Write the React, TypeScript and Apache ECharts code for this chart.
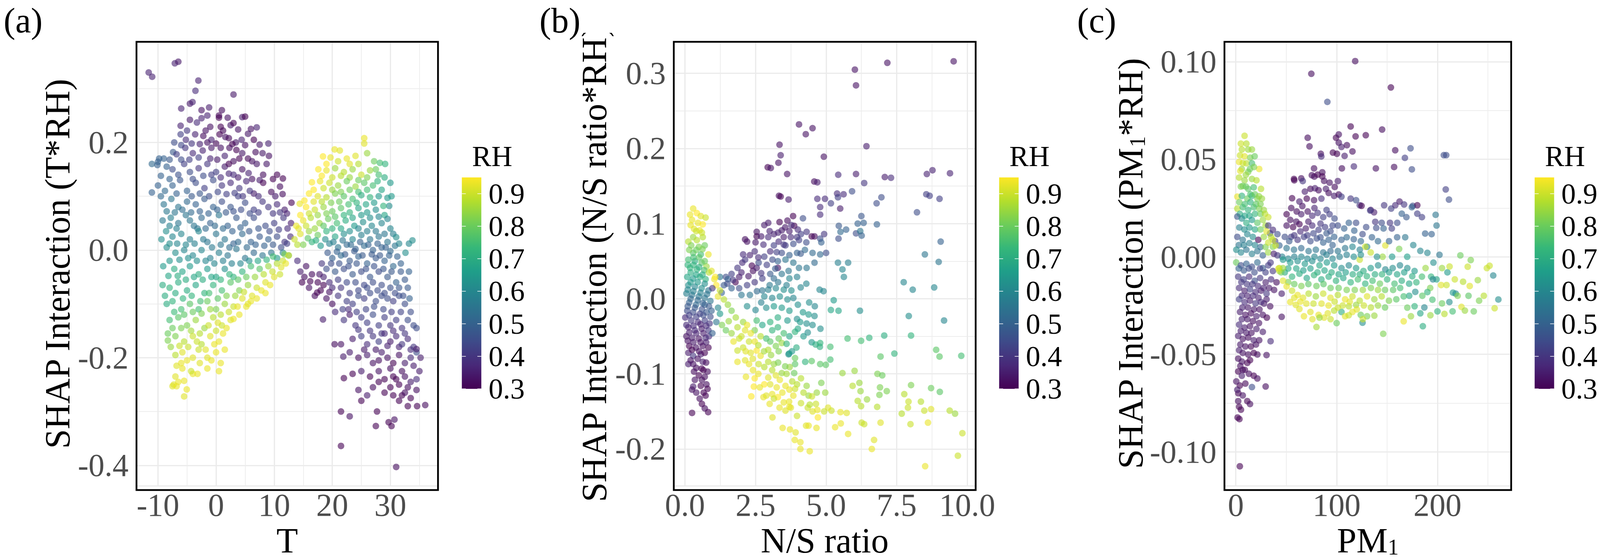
import { useEffect, useRef } from 'react';
import * as echarts from 'echarts';

// viridis, low RH -> high RH
const VIRIDIS = ['#440154', '#482878', '#3E4A89', '#31688E', '#26828E', '#1F9E89', '#35B779', '#6DCD59', '#B4DE2C', '#FDE725'];
const RH_MIN = 0.3;
const RH_MAX = 0.95;
const RH_TICKS = [0.3, 0.4, 0.5, 0.6, 0.7, 0.8, 0.9];

// (a) [T, SHAP interaction (T*RH), RH]
const T_POINTS: number[][] = [
  [-11.6,0.33,0.36],[-11.0,0.322,0.36],[-7.1,0.347,0.36],[-6.5,0.35,0.34],[-3.05,0.315,0.36],[-3.55,0.296,0.38],[3.0,0.289,0.34],[-6.0,0.263,0.36],[-4.5,0.272,0.34],[-4.05,0.275,0.36],[-2.5,0.26,0.33],[-1.2,0.265,0.35],[1.0,0.26,0.32],[0.5,0.25,0.31],[-1.5,0.25,0.36],
  [-6.1,0.231,0.36],[-4.5,0.242,0.34],[-2.5,0.245,0.36],[0.5,0.246,0.3],[2.0,0.246,0.33],[4.5,0.247,0.35],[5.0,0.248,0.3],[-1.0,0.229,0.33],[0.8,0.229,0.3],[2.5,0.232,0.34],[7.0,0.228,0.36],[3.0,0.236,0.3],[-3.3,0.237,0.38],
  [-5.0,0.222,0.4],[-1.8,0.222,0.33],[1.2,0.222,0.31],[3.8,0.224,0.33],[6.0,0.225,0.33],
  [-6.1,0.215,0.42],[-7.2,0.2,0.45],[-3.6,0.215,0.36],[-2.2,0.212,0.32],[-0.8,0.205,0.36],[0.6,0.215,0.3],[1.6,0.21,0.33],[2.2,0.208,0.31],[3.4,0.2,0.34],[4.4,0.205,0.36],[5.5,0.216,0.34],[6.5,0.205,0.3],[9.0,0.198,0.36],[-5.2,0.205,0.38],[-4.2,0.198,0.4],
  [-6.0,0.195,0.44],[-2.8,0.197,0.36],[-1.5,0.2,0.33],[0.0,0.198,0.31],[2.8,0.197,0.3],[5.0,0.195,0.33],[7.5,0.196,0.34],
  [-11.05,0.16,0.52],[-10.0,0.164,0.5],[-9.0,0.17,0.5],[-7.4,0.182,0.48],[-6.8,0.178,0.42],[-5.3,0.19,0.4],[-4.0,0.18,0.38],[-2.3,0.185,0.36],[-0.8,0.19,0.34],[0.8,0.19,0.33],[2.3,0.19,0.32],[3.5,0.186,0.3],[4.5,0.18,0.34],[6.8,0.182,0.32],[8.0,0.18,0.34],[9.1,0.175,0.33],[-3.0,0.172,0.42],[1.5,0.175,0.36],[5.5,0.17,0.31],
  [-9.8,0.17,0.5],[-8.0,0.168,0.48],[-6.0,0.168,0.45],[-4.6,0.168,0.42],[-1.0,0.17,0.36],[0.2,0.168,0.34],[3.0,0.165,0.32],[4.0,0.17,0.3],[6.2,0.165,0.33],[8.7,0.16,0.34],
  [-10.1,0.158,0.5],[-8.5,0.155,0.5],[-7.5,0.15,0.45],[-5.5,0.16,0.42],[-4.5,0.145,0.45],[-3.0,0.152,0.4],[-1.5,0.16,0.4],[0.0,0.145,0.42],[1.5,0.155,0.35],[3.0,0.14,0.38],[4.5,0.15,0.33],[5.6,0.143,0.36],[7.0,0.16,0.34],[8.1,0.14,0.32],[9.8,0.132,0.3],[-2.2,0.138,0.45],[2.2,0.16,0.3],[-6.5,0.14,0.46],
  [-9.5,0.138,0.5],[-8.0,0.132,0.5],[-4.0,0.132,0.45],[-0.8,0.14,0.42],[0.8,0.135,0.38],[2.2,0.142,0.37],[3.8,0.135,0.35],[6.2,0.132,0.33],[7.5,0.13,0.35],[10.5,0.14,0.3],
  [-11.05,0.107,0.5],[-10.0,0.12,0.5],[-7.5,0.12,0.5],[-6.2,0.13,0.47],[-5.0,0.11,0.5],[-3.5,0.125,0.45],[-2.0,0.115,0.42],[-0.5,0.13,0.45],[1.0,0.12,0.4],[2.5,0.125,0.38],[4.0,0.115,0.4],[5.2,0.128,0.37],[6.5,0.105,0.35],[8.1,0.125,0.3],[9.5,0.108,0.32],[11.5,0.133,0.3],[11.45,0.104,0.32],[-8.8,0.11,0.52],[0.3,0.108,0.44],[3.2,0.106,0.42],
  [-9.5,0.1,0.52],[-6.8,0.105,0.5],[-4.2,0.1,0.48],[-2.8,0.105,0.47],[-1.2,0.1,0.45],[1.8,0.104,0.42],[4.6,0.1,0.4],[5.8,0.11,0.4],[7.3,0.1,0.38],[10.2,0.1,0.35],[11.0,0.118,0.32],
  [-7.7,0.095,0.55],[-6.5,0.08,0.55],[-5.0,0.09,0.52],[-3.5,0.085,0.5],[-2.0,0.095,0.48],[-0.5,0.08,0.5],[1.0,0.09,0.45],[2.5,0.08,0.47],[3.8,0.1,0.42],[5.0,0.088,0.45],[6.5,0.075,0.42],[8.0,0.09,0.4],[9.0,0.08,0.4],[10.5,0.085,0.38],[12.98,0.088,0.3],[11.8,0.075,0.35],[-9.0,0.085,0.55],
  [-8.5,0.072,0.56],[-7.1,0.07,0.55],[-5.8,0.075,0.53],[-4.3,0.07,0.52],[-2.8,0.072,0.5],[-1.3,0.068,0.5],[0.2,0.075,0.5],[1.7,0.07,0.48],[3.0,0.072,0.46],[4.3,0.075,0.45],[5.8,0.068,0.45],[7.3,0.07,0.42],[9.8,0.068,0.4],[11.0,0.07,0.4],[12.2,0.068,0.36],
  [-7.8,0.06,0.58],[-6.5,0.05,0.55],[-5.2,0.065,0.55],[-3.8,0.045,0.55],[-2.5,0.06,0.52],[-1.0,0.05,0.5],[0.5,0.065,0.55],[2.0,0.045,0.5],[3.5,0.06,0.48],[5.0,0.05,0.5],[6.5,0.06,0.45],[8.5,0.045,0.45],[10.0,0.05,0.42],[11.6,0.06,0.4],[12.9,0.05,0.35],[-9.2,0.055,0.56],
  [-8.0,0.045,0.58],[-6.8,0.04,0.58],[-4.5,0.055,0.55],[-3.2,0.04,0.55],[-1.8,0.04,0.52],[-0.2,0.045,0.52],[1.2,0.04,0.52],[2.8,0.035,0.5],[4.2,0.042,0.5],[5.7,0.035,0.48],[7.3,0.04,0.47],[9.2,0.035,0.45],[10.8,0.038,0.42],[12.3,0.04,0.38],
  [-8.6,0.035,0.62],[-7.5,0.025,0.6],[-6.0,0.03,0.6],[-4.5,0.02,0.58],[-3.0,0.035,0.6],[-1.5,0.015,0.55],[0.0,0.03,0.55],[1.5,0.02,0.55],[3.0,0.012,0.5],[4.5,0.03,0.52],[6.0,0.015,0.5],[7.5,0.025,0.48],[9.0,0.02,0.5],[10.5,0.025,0.45],[11.8,0.015,0.4],[12.8,0.025,0.38],[-9.4,0.02,0.62],
  [-8.0,0.012,0.62],[-6.7,0.012,0.6],[-5.2,0.01,0.6],[-3.7,0.012,0.58],[-2.2,0.02,0.56],[-0.7,0.005,0.56],[0.8,0.01,0.55],[2.3,0.005,0.53],[3.8,0.015,0.52],[5.3,0.005,0.52],[6.8,0.01,0.5],[8.3,0.008,0.5],[9.8,0.01,0.48],[11.2,0.005,0.45],[12.2,0.012,0.42],
  [-7.0,-0.005,0.62],[-5.5,0.0,0.6],[-4.0,-0.01,0.6],[-2.5,0.0,0.6],[-1.0,-0.015,0.58],[0.5,-0.005,0.58],[2.0,-0.01,0.55],[3.5,0.002,0.55],[5.0,-0.015,0.55],[6.5,-0.005,0.52],[8.0,-0.01,0.55],[9.5,-0.005,0.55],[10.5,-0.015,0.65],[11.5,-0.005,0.6],[12.5,-0.01,0.7],[-8.5,0.005,0.62],
  [-8.0,-0.02,0.64],[-6.3,-0.018,0.62],[-4.8,-0.015,0.62],[-3.3,-0.02,0.62],[-1.8,-0.02,0.6],[-0.3,-0.025,0.6],[1.2,-0.02,0.58],[2.7,-0.025,0.58],[4.2,-0.025,0.6],[5.7,-0.02,0.62],[7.2,-0.02,0.68],[8.7,-0.018,0.72],[9.8,-0.012,0.75],[11.8,-0.008,0.82],
  [-9.1,-0.03,0.65],[-7.2,-0.035,0.7],[-5.8,-0.04,0.68],[-4.5,-0.03,0.65],[-3.0,-0.045,0.7],[-1.5,-0.035,0.65],[0.0,-0.05,0.68],[1.5,-0.035,0.62],[3.0,-0.05,0.72],[4.5,-0.04,0.72],[6.0,-0.03,0.75],[7.5,-0.035,0.78],[9.0,-0.03,0.85],[10.5,-0.025,0.88],[11.5,-0.02,0.9],[12.5,-0.01,0.92],
  [-8.2,-0.048,0.68],[-6.6,-0.048,0.7],[-5.2,-0.055,0.7],[-3.8,-0.05,0.68],[-2.3,-0.055,0.7],[-0.8,-0.05,0.68],[0.8,-0.055,0.72],[2.3,-0.045,0.72],[3.8,-0.055,0.78],[5.2,-0.05,0.8],[6.7,-0.05,0.85],[8.2,-0.045,0.88],[9.7,-0.04,0.9],[11.2,-0.032,0.92],[12.0,-0.025,0.93],
  [-8.0,-0.07,0.72],[-6.5,-0.06,0.7],[-5.0,-0.075,0.7],[-3.5,-0.065,0.68],[-2.0,-0.08,0.72],[-0.5,-0.065,0.72],[1.0,-0.075,0.75],[2.5,-0.06,0.78],[4.0,-0.075,0.82],[5.5,-0.065,0.85],[7.0,-0.07,0.9],[8.5,-0.06,0.92],[10.0,-0.05,0.92],[11.0,-0.045,0.9],[6.2,-0.085,0.92],[-9.2,-0.065,0.7],
  [-8.8,-0.085,0.7],[-7.0,-0.08,0.7],[-5.7,-0.09,0.72],[-4.2,-0.085,0.72],[-2.7,-0.095,0.75],[-1.2,-0.08,0.75],[0.3,-0.09,0.78],[1.8,-0.085,0.82],[3.3,-0.085,0.85],[4.8,-0.078,0.9],[7.8,-0.075,0.93],[9.3,-0.065,0.93],
  [-8.5,-0.1,0.7],[-7.5,-0.095,0.72],[-6.0,-0.11,0.75],[-4.5,-0.1,0.78],[-3.0,-0.11,0.75],[-1.5,-0.095,0.8],[0.0,-0.11,0.82],[1.5,-0.1,0.85],[3.0,-0.105,0.9],[4.5,-0.09,0.92],[5.5,-0.1,0.92],[7.0,-0.09,0.93],[-2.5,-0.118,0.82],[8.5,-0.08,0.93],
  [-7.2,-0.115,0.74],[-5.5,-0.12,0.78],[-4.0,-0.115,0.8],[-1.0,-0.11,0.85],[0.8,-0.12,0.88],[2.2,-0.115,0.9],[3.7,-0.105,0.93],[5.2,-0.105,0.93],[6.0,-0.095,0.93],
  [-8.0,-0.13,0.75],[-6.5,-0.125,0.78],[-5.0,-0.14,0.82],[-3.5,-0.13,0.85],[-2.0,-0.145,0.85],[-0.5,-0.125,0.88],[1.0,-0.14,0.9],[2.5,-0.13,0.92],[4.0,-0.12,0.93],[0.0,-0.15,0.9],
  [-7.5,-0.145,0.8],[-6.0,-0.145,0.82],[-4.3,-0.15,0.86],[-2.8,-0.155,0.88],[-1.3,-0.14,0.9],[0.3,-0.135,0.92],[1.8,-0.145,0.93],[3.0,-0.128,0.93],
  [-8.3,-0.155,0.8],[-8.3,-0.168,0.82],[-7.0,-0.16,0.82],[-5.5,-0.17,0.88],[-4.0,-0.16,0.9],[-2.5,-0.175,0.88],[-1.0,-0.16,0.92],[0.5,-0.17,0.93],[1.2,-0.155,0.93],[-6.3,-0.178,0.9],
  [-7.8,-0.18,0.85],[-4.8,-0.18,0.9],[-3.3,-0.17,0.9],[-1.8,-0.185,0.92],[-0.3,-0.175,0.93],[1.5,-0.185,0.93],
  [-7.0,-0.195,0.88],[-5.8,-0.19,0.92],[-4.0,-0.2,0.92],[-3.0,-0.185,0.9],[-1.5,-0.2,0.92],[0.0,-0.19,0.93],[0.8,-0.21,0.93],[-6.0,-0.21,0.93],
  [-6.8,-0.215,0.92],[-5.0,-0.205,0.93],[-2.8,-0.21,0.92],[-0.8,-0.205,0.93],[0.5,-0.225,0.93],[-4.0,-0.23,0.93],
  [-5.8,-0.22,0.93],[-7.0,-0.235,0.92],[-6.5,-0.245,0.93],[-7.3,-0.25,0.92],[-4.3,-0.225,0.9],[-3.2,-0.23,0.93],[-1.5,-0.22,0.93],[-7.5,-0.253,0.92],[-6.8,-0.253,0.93],[-5.5,-0.243,0.93],[-5.05,-0.259,0.93],[-5.5,-0.272,0.92],
  [25.5,0.208,0.93],[25.5,0.198,0.92],[20.4,0.187,0.93],[21.3,0.185,0.92],[26.0,0.18,0.85],[24.0,0.175,0.92],[18.4,0.174,0.95],[19.7,0.172,0.93],[22.5,0.17,0.93],[27.2,0.165,0.8],[28.2,0.162,0.75],[29.1,0.16,0.72],
  [19.0,0.16,0.95],[21.0,0.165,0.9],[23.0,0.16,0.92],[24.5,0.16,0.88],[27.5,0.15,0.8],
  [17.6,0.15,0.95],[19.0,0.148,0.93],[20.5,0.152,0.85],[22.0,0.145,0.88],[23.5,0.15,0.85],[25.0,0.14,0.9],[26.5,0.148,0.85],[28.0,0.14,0.75],
  [18.2,0.138,0.95],[20.0,0.135,0.9],[21.5,0.138,0.88],[23.0,0.135,0.85],[24.5,0.13,0.8],[26.0,0.135,0.82],[27.8,0.128,0.72],[29.0,0.135,0.7],
  [17.9,0.128,0.93],[16.5,0.126,0.95],[19.5,0.125,0.9],[21.0,0.12,0.85],[22.5,0.128,0.8],[24.0,0.118,0.85],[25.5,0.125,0.78],[27.0,0.12,0.75],[30.0,0.125,0.65],
  [16.8,0.112,0.95],[18.5,0.115,0.9],[20.0,0.112,0.85],[21.5,0.108,0.82],[23.0,0.112,0.8],[24.5,0.108,0.75],[26.0,0.112,0.75],[28.5,0.112,0.68],
  [16.0,0.105,0.95],[17.5,0.1,0.92],[19.0,0.098,0.88],[20.5,0.105,0.82],[22.0,0.1,0.78],[23.5,0.095,0.75],[25.0,0.102,0.7],[26.5,0.098,0.72],[28.0,0.1,0.65],[29.5,0.097,0.65],[30.2,0.1,0.65],
  [15.2,0.092,0.95],[16.8,0.09,0.92],[18.2,0.09,0.88],[19.8,0.088,0.82],[21.2,0.09,0.8],[22.8,0.085,0.75],[24.2,0.088,0.72],[25.8,0.085,0.68],[27.2,0.088,0.65],[29.8,0.082,0.62],
  [15.5,0.08,0.95],[14.4,0.086,0.93],[17.0,0.075,0.9],[18.5,0.08,0.85],[20.0,0.072,0.8],[21.5,0.078,0.78],[23.0,0.07,0.72],[24.5,0.078,0.68],[26.0,0.07,0.65],[27.5,0.075,0.62],[28.8,0.082,0.72],[29.0,0.065,0.68],
  [14.5,0.065,0.95],[16.0,0.068,0.9],[17.5,0.065,0.85],[19.0,0.068,0.82],[20.5,0.062,0.78],[22.0,0.065,0.72],[23.5,0.06,0.68],[25.0,0.065,0.65],[26.5,0.06,0.62],[28.0,0.062,0.6],[29.5,0.058,0.6],
  [15.0,0.055,0.93],[16.3,0.06,0.88],[17.8,0.05,0.85],[19.3,0.058,0.8],[20.8,0.05,0.75],[22.3,0.055,0.7],[23.8,0.045,0.65],[25.3,0.052,0.62],[26.8,0.045,0.6],[28.5,0.05,0.6],[30.0,0.04,0.6],
  [14.2,0.04,0.92],[15.5,0.045,0.9],[17.0,0.04,0.85],[18.5,0.045,0.78],[20.0,0.04,0.72],[21.5,0.04,0.68],[23.0,0.035,0.62],[24.5,0.04,0.6],[26.0,0.035,0.58],[27.5,0.035,0.56],[29.0,0.03,0.55],[30.5,0.03,0.58],
  [13.8,0.045,0.93],[14.5,0.03,0.92],[16.0,0.035,0.85],[17.5,0.028,0.8],[19.0,0.035,0.72],[20.5,0.025,0.68],[22.0,0.03,0.62],[23.5,0.02,0.6],[25.0,0.028,0.58],[26.5,0.02,0.55],[28.0,0.025,0.55],[29.5,0.015,0.55],[31.0,0.024,0.62],[31.5,0.012,0.6],[33.2,0.012,0.6],[33.8,0.018,0.62],[32.6,-0.005,0.62],
  [14.0,0.01,0.88],[15.8,0.022,0.78],[17.2,0.018,0.7],[18.8,0.02,0.62],[20.2,0.015,0.58],[21.8,0.018,0.55],[23.2,0.01,0.52],[24.8,0.015,0.5],[26.2,0.01,0.5],[27.8,0.012,0.5],[29.2,0.005,0.5],[30.8,0.008,0.55],
  [13.5,0.02,0.9],[15.0,0.01,0.82],[16.5,0.015,0.72],[18.0,0.008,0.65],[19.5,0.012,0.58],[21.0,0.005,0.55],[22.5,0.01,0.52],[24.0,0.002,0.5],[25.5,0.008,0.52],[27.0,0.0,0.5],[28.5,0.005,0.5],[30.0,-0.002,0.52],
  [19.2,-0.005,0.48],[20.8,-0.003,0.5],[22.2,-0.008,0.48],[23.8,-0.002,0.48],[25.2,-0.01,0.48],[26.8,-0.008,0.48],[28.2,-0.01,0.48],[29.8,-0.01,0.5],[31.2,-0.012,0.5],
  [20.0,-0.015,0.5],[21.5,-0.01,0.52],[23.0,-0.02,0.48],[24.5,-0.012,0.5],[26.0,-0.025,0.5],[27.5,-0.015,0.48],[29.0,-0.02,0.5],[30.5,-0.03,0.52],[31.8,-0.025,0.5],
  [18.2,-0.025,0.4],[19.8,-0.025,0.45],[21.2,-0.025,0.46],[22.8,-0.03,0.46],[24.2,-0.025,0.47],[25.8,-0.035,0.46],[27.2,-0.03,0.46],[28.8,-0.035,0.47],[30.2,-0.04,0.48],[31.8,-0.04,0.48],
  [19.0,-0.035,0.45],[20.5,-0.04,0.48],[22.0,-0.035,0.45],[23.5,-0.045,0.48],[25.0,-0.04,0.45],[26.5,-0.05,0.47],[28.0,-0.04,0.45],[29.5,-0.05,0.48],[31.0,-0.06,0.5],[32.5,-0.055,0.48],[33.2,-0.04,0.5],
  [14.0,-0.02,0.38],[14.5,-0.04,0.35],[15.5,-0.03,0.33],[16.5,-0.045,0.32],[14.8,-0.06,0.3],[16.0,-0.07,0.33],[17.5,-0.06,0.3],[18.5,-0.05,0.36],[17.0,-0.085,0.32],[18.0,-0.075,0.3],[19.0,-0.09,0.33],[20.0,-0.07,0.38],[17.4,-0.079,0.3],[20.0,-0.1,0.32],[21.0,-0.085,0.4],[21.8,-0.11,0.42],[22.5,-0.095,0.42],[23.5,-0.1,0.42],[24.5,-0.085,0.45],[25.5,-0.09,0.42],[26.5,-0.08,0.45],[27.5,-0.095,0.45],[28.5,-0.085,0.45],[29.5,-0.09,0.45],[30.5,-0.095,0.42],[31.5,-0.085,0.45],[32.5,-0.1,0.45],[33.3,-0.09,0.5],
  [15.2,-0.05,0.32],[16.2,-0.058,0.3],[17.8,-0.045,0.34],[19.5,-0.06,0.38],[21.0,-0.055,0.42],[22.5,-0.06,0.44],[24.0,-0.06,0.45],[25.5,-0.065,0.44],[27.0,-0.06,0.45],[28.5,-0.065,0.45],[30.0,-0.07,0.46],[31.5,-0.07,0.47],[33.0,-0.07,0.48],
  [18.5,-0.065,0.3],[19.5,-0.078,0.33],[21.5,-0.07,0.4],[23.0,-0.08,0.42],[24.5,-0.075,0.44],[26.0,-0.07,0.45],[27.8,-0.075,0.45],[29.0,-0.08,0.45],[30.8,-0.08,0.45],[32.2,-0.085,0.46],
  [20.5,-0.115,0.38],[22.8,-0.11,0.38],[24.2,-0.115,0.42],[25.8,-0.11,0.43],[27.2,-0.105,0.45],[28.8,-0.11,0.44],[30.2,-0.115,0.42],[31.8,-0.115,0.43],[33.5,-0.115,0.45],
  [22.0,-0.13,0.4],[23.0,-0.12,0.35],[24.0,-0.14,0.4],[25.0,-0.125,0.42],[26.0,-0.135,0.42],[27.0,-0.12,0.45],[28.0,-0.14,0.42],[29.0,-0.125,0.42],[30.0,-0.14,0.4],[31.0,-0.13,0.42],[32.0,-0.145,0.4],[33.0,-0.13,0.45],[34.0,-0.14,0.45],[18.4,-0.129,0.35],
  [24.5,-0.148,0.4],[26.5,-0.15,0.4],[28.5,-0.155,0.4],[30.5,-0.15,0.38],[32.5,-0.155,0.4],[29.5,-0.178,0.36],[31.5,-0.18,0.36],[33.5,-0.185,0.38],[27.5,-0.185,0.34],[25.5,-0.185,0.34],
  [23.5,-0.165,0.35],[25.0,-0.16,0.42],[26.0,-0.175,0.38],[27.0,-0.16,0.4],[28.0,-0.17,0.42],[29.0,-0.155,0.38],[30.0,-0.17,0.35],[31.0,-0.16,0.38],[32.0,-0.175,0.4],[33.0,-0.165,0.38],[34.0,-0.18,0.4],[34.5,-0.145,0.45],[34.5,-0.19,0.45],
  [20.4,-0.175,0.32],[21.5,-0.175,0.33],[23.0,-0.19,0.35],[24.5,-0.2,0.32],[26.0,-0.195,0.35],[27.0,-0.21,0.33],[28.5,-0.19,0.35],[29.5,-0.2,0.33],[30.5,-0.21,0.3],[31.5,-0.195,0.33],[32.5,-0.21,0.35],[33.5,-0.2,0.38],[34.5,-0.184,0.35],[35.2,-0.2,0.35],
  [28.0,-0.205,0.32],[30.0,-0.22,0.32],[32.0,-0.225,0.32],[34.0,-0.215,0.35],[31.0,-0.24,0.3],[33.0,-0.255,0.32],[30.0,-0.255,0.3],[28.0,-0.245,0.3],[32.0,-0.27,0.3],
  [21.9,-0.198,0.35],[23.5,-0.23,0.3],[25.0,-0.225,0.35],[26.5,-0.235,0.3],[28.0,-0.225,0.33],[29.0,-0.24,0.3],[30.5,-0.235,0.3],[31.5,-0.25,0.3],[32.5,-0.235,0.33],[33.5,-0.245,0.35],[34.5,-0.24,0.38],[35.0,-0.225,0.35],
  [22.0,-0.238,0.3],[24.5,-0.26,0.33],[26.0,-0.27,0.35],[27.0,-0.255,0.32],[29.0,-0.265,0.3],[30.5,-0.27,0.3],[31.5,-0.28,0.3],[32.5,-0.265,0.32],[33.5,-0.275,0.3],[34.5,-0.26,0.32],[36.0,-0.288,0.32],[34.6,-0.29,0.3],[33.0,-0.29,0.3],
  [21.5,-0.3,0.3],[23.0,-0.309,0.33],[27.5,-0.327,0.3],[29.7,-0.32,0.3],[30.2,-0.327,0.3],[30.7,-0.315,0.33],[21.5,-0.364,0.3],[31.0,-0.403,0.32],[25.0,-0.28,0.3],[27.7,-0.3,0.3],
];

// (b) [N/S ratio, SHAP interaction (N/S ratio*RH), RH]
const NS_POINTS: number[][] = [
  [6.02,0.305,0.33],[7.17,0.314,0.33],[9.52,0.316,0.33],[6.06,0.284,0.33],
  [4.04,0.232,0.33],[4.28,0.219,0.33],[4.52,0.227,0.33],[6.43,0.203,0.35],[3.35,0.205,0.33],[3.39,0.191,0.35],[3.31,0.181,0.33],[4.92,0.189,0.33],[2.93,0.175,0.3],[3.04,0.174,0.33],[3.62,0.166,0.33],[5.43,0.165,0.38],[6.06,0.166,0.35],[6.35,0.154,0.4],[7.08,0.162,0.35],[7.3,0.161,0.38],[4.58,0.156,0.32],[4.69,0.155,0.35],[8.57,0.166,0.36],[8.77,0.171,0.36],[9.39,0.167,0.36],
  [8.55,0.139,0.42],[8.67,0.137,0.42],[9.02,0.133,0.42],[8.22,0.115,0.45],[9.06,0.076,0.5],[8.5,0.059,0.55],[8.99,0.049,0.55],[7.75,0.022,0.6],[8.07,0.012,0.6],[8.83,0.015,0.6],[7.93,-0.023,0.62],[9.18,-0.029,0.6],
  [3.33,0.137,0.32],[3.39,0.136,0.3],[3.67,0.132,0.35],[4.69,0.133,0.38],[4.96,0.133,0.38],[4.79,0.122,0.38],[4.79,0.112,0.38],[5.17,0.127,0.42],[5.39,0.14,0.38],[5.42,0.135,0.42],[5.62,0.139,0.38],[5.5,0.12,0.35],[5.92,0.143,0.45],[6.79,0.127,0.45],[6.96,0.135,0.45],[6.25,0.11,0.47],[6.12,0.1,0.5],[6.33,0.101,0.5],[6.8,0.099,0.5],[5.45,0.097,0.48],[5.71,0.092,0.5],[5.51,0.089,0.52],[5.44,0.08,0.45],[6.06,0.087,0.45],[6.21,0.09,0.55],[6.26,0.084,0.5],[5.42,0.048,0.58],[5.78,0.048,0.58],[5.58,0.039,0.6],[5.63,0.029,0.6],[5.27,-0.002,0.65],[5.17,-0.015,0.68],[5.44,-0.016,0.68],[6.2,-0.016,0.62],[4.77,0.012,0.6],[4.91,0.01,0.6],
  [5.76,-0.053,0.75],[6.24,-0.056,0.75],[6.53,-0.052,0.72],[7.06,-0.049,0.7],[8.01,-0.049,0.72],[6.93,-0.077,0.78],[7.42,-0.073,0.72],[8.9,-0.068,0.78],[9.02,-0.077,0.78],[9.79,-0.076,0.75],[5.58,-0.099,0.85],[6.01,-0.096,0.85],[6.82,-0.1,0.82],[6.99,-0.102,0.8],[6.18,-0.112,0.85],[5.94,-0.116,0.88],[6.22,-0.123,0.85],[6.91,-0.118,0.82],[7.15,-0.123,0.82],[6.89,-0.128,0.82],[8.01,-0.115,0.82],[8.72,-0.119,0.8],[9.03,-0.124,0.78],[7.77,-0.127,0.88],[7.92,-0.137,0.9],[8.36,-0.137,0.88],[7.9,-0.145,0.9],[8.48,-0.149,0.9],[8.72,-0.147,0.92],[7.68,-0.153,0.88],[9.38,-0.149,0.88],[9.57,-0.153,0.85],[6.12,-0.136,0.88],[6.45,-0.134,0.85],[6.24,-0.143,0.88],[6.81,-0.144,0.88],[6.93,-0.165,0.92],[6.26,-0.165,0.9],[6.35,-0.167,0.9],[7.99,-0.167,0.9],[8.61,-0.165,0.93],[9.83,-0.179,0.9],[6.7,-0.188,0.92],[6.62,-0.2,0.93],[8.51,-0.223,0.93],[9.67,-0.209,0.9],
  [5.51,-0.151,0.93],[5.73,-0.152,0.92],[5.52,-0.166,0.93],[5.32,-0.171,0.93],[5.78,-0.18,0.93],[5.19,-0.149,0.9],[5.07,-0.145,0.92],[4.93,-0.15,0.9],[4.69,-0.148,0.93],[4.71,-0.158,0.95],[4.52,-0.15,0.92],[4.35,-0.145,0.9],[4.64,-0.14,0.9],[4.42,-0.141,0.88],[4.29,-0.169,0.92],[4.66,-0.172,0.93],[4.38,-0.169,0.93],[3.97,-0.156,0.9],[4.09,-0.191,0.93],[3.89,-0.188,0.93],[3.92,-0.178,0.92],[3.72,-0.174,0.93],[3.46,-0.172,0.93],[4.09,-0.2,0.93],[4.42,-0.203,0.93],[3.1,-0.158,0.92],[3.56,-0.149,0.92],[3.75,-0.145,0.92],[4.11,-0.139,0.9],[4.38,-0.129,0.85],[4.67,-0.125,0.85],[4.97,-0.125,0.85],[4.83,-0.112,0.82],[5.15,-0.081,0.75],[5.15,-0.064,0.75],[4.99,-0.088,0.78],[4.79,-0.087,0.78],[4.49,-0.083,0.78],[4.26,-0.084,0.72],[3.9,-0.087,0.78],[3.9,-0.079,0.8],[3.71,-0.091,0.85],[4.78,-0.064,0.7],[4.49,-0.058,0.65],[4.63,-0.061,0.7],[3.67,-0.074,0.62],[3.79,-0.07,0.65],[4.79,-0.059,0.72],
  [1.24,0.029,0.55],[1.45,0.029,0.45],[1.65,0.033,0.42],[1.86,0.041,0.4],[2.03,0.048,0.38],[2.13,0.052,0.4],[2.37,0.044,0.3],[2.41,0.037,0.32],[2.54,0.041,0.35],[1.92,0.029,0.35],[1.79,0.022,0.3],[1.52,0.026,0.5],[1.38,0.018,0.48],[1.65,0.014,0.5],[1.92,0.014,0.45],[2.2,0.018,0.42],[2.47,0.022,0.4],[2.74,0.027,0.42],[3.02,0.033,0.48],[2.61,0.048,0.45],[2.81,0.056,0.42],[3.02,0.063,0.38],[3.15,0.071,0.42],[3.32,0.076,0.38],[3.5,0.082,0.35],[3.7,0.09,0.35],[3.87,0.097,0.3],[3.83,0.11,0.3],[3.63,0.104,0.32],[3.35,0.102,0.3],[2.81,0.098,0.35],[2.95,0.101,0.35],[2.54,0.089,0.33],[2.54,0.083,0.3],[2.13,0.079,0.32],[2.2,0.076,0.33],[2.06,0.059,0.38],[2.47,0.063,0.38],[2.78,0.072,0.38],[2.95,0.082,0.38],[3.15,0.086,0.36],[3.43,0.091,0.35],[4.11,0.086,0.42],[4.31,0.089,0.4],[4.49,0.083,0.3],[4.59,0.083,0.32],[4.79,0.08,0.45],[4.93,0.086,0.4],[4.83,0.075,0.5],[4.18,0.107,0.45],[3.77,0.098,0.38],[3.97,0.082,0.4],[4.04,0.078,0.42],[3.84,0.073,0.45],[3.56,0.071,0.42],[3.43,0.061,0.45],[3.7,0.058,0.5],[3.97,0.061,0.5],[4.25,0.065,0.52],[4.52,0.061,0.52],[4.79,0.059,0.52],[5.0,0.061,0.45],[3.29,0.05,0.5],[3.56,0.052,0.55],[3.84,0.048,0.55],[4.04,0.041,0.55],[4.31,0.041,0.55],[4.59,0.048,0.52],[3.29,0.041,0.33],[3.67,0.037,0.55],[3.43,0.033,0.55],[3.15,0.027,0.52],[3.7,0.027,0.6],[3.97,0.029,0.58],[2.74,0.011,0.55],[2.95,0.012,0.58],[3.22,0.014,0.6],[3.5,0.012,0.62],[3.77,0.011,0.62],[3.84,0.001,0.6],[3.63,-0.001,0.62],[3.36,0.003,0.62],[3.09,0.001,0.6],[2.81,0.003,0.6],
  [1.3,0.008,0.5],[1.5,0.02,0.45],[1.7,0.025,0.4],[2.0,0.035,0.36],[2.25,0.03,0.34],[2.3,0.058,0.36],[2.6,0.055,0.38],[2.7,0.034,0.4],[2.9,0.045,0.42],[3.1,0.052,0.45],[3.2,0.04,0.48],[2.5,0.075,0.34],[2.7,0.083,0.35],[3.0,0.09,0.36],[3.3,0.088,0.36],[3.55,0.095,0.34],[3.25,0.062,0.42],[3.5,0.072,0.4],[3.75,0.082,0.38],[4.0,0.092,0.38],[4.3,0.075,0.45],[4.1,0.06,0.48],[2.0,0.005,0.55],[2.3,0.005,0.55],[2.55,0.01,0.52],[2.2,-0.01,0.62],[2.5,-0.015,0.6],[2.7,-0.005,0.58],[3.0,0.018,0.56],[3.3,0.022,0.55],[3.6,0.018,0.58],[4.1,0.015,0.6],[4.3,0.02,0.6],[4.4,-0.005,0.62],[4.0,-0.008,0.62],
  [2.88,-0.012,0.62],[3.15,-0.01,0.65],[3.43,-0.012,0.65],[3.7,-0.016,0.65],[3.97,-0.027,0.62],[4.18,-0.018,0.65],[4.38,-0.021,0.65],[4.59,-0.023,0.62],[4.31,-0.033,0.62],[4.52,-0.035,0.62],[4.08,-0.031,0.65],[3.63,-0.029,0.65],[3.29,-0.025,0.7],[3.02,-0.031,0.72],[2.74,-0.035,0.68],[2.54,-0.029,0.75],[2.47,-0.042,0.82],[2.68,-0.05,0.88],[2.88,-0.053,0.75],[3.09,-0.042,0.72],[3.29,-0.038,0.72],[3.5,-0.046,0.75],[3.7,-0.05,0.68],[3.9,-0.044,0.72],[3.32,-0.053,0.8],[3.02,-0.057,0.78],[3.22,-0.063,0.82],[3.43,-0.059,0.85],[3.32,-0.07,0.82],[2.95,-0.068,0.88],
  [3.6,-0.06,0.72],[3.95,-0.065,0.7],[4.2,-0.05,0.65],[4.0,-0.04,0.68],[4.35,-0.045,0.62],[4.8,-0.04,0.62],[4.6,-0.01,0.6],
  [1.04,0.026,0.93],[1.11,0.018,0.95],[1.24,0.011,0.9],[1.17,0.003,0.93],[1.38,-0.001,0.88],[1.52,-0.008,0.85],[1.65,-0.016,0.82],[1.31,-0.035,0.82],[1.45,-0.042,0.8],[1.65,-0.046,0.85],[1.86,-0.038,0.88],[2.06,-0.031,0.85],[1.92,-0.053,0.9],[1.72,-0.057,0.93],[2.13,-0.042,0.92],[2.2,-0.035,0.93],[2.33,-0.046,0.93],[2.27,-0.057,0.9],[2.47,-0.057,0.93],[1.86,-0.069,0.9],[2.06,-0.065,0.9],[2.33,-0.072,0.92],[2.54,-0.069,0.95],[2.68,-0.076,0.93],[1.86,-0.084,0.93],[2.13,-0.082,0.92],[2.27,-0.087,0.93],[2.41,-0.095,0.93],[2.47,-0.106,0.95],[2.44,-0.117,0.95],[2.16,-0.104,0.93],[2.61,-0.087,0.9],[2.81,-0.091,0.88],[2.95,-0.084,0.88],[3.09,-0.095,0.88],[3.22,-0.102,0.92],[3.15,-0.087,0.85],[3.43,-0.099,0.85],[3.56,-0.116,0.93],[3.36,-0.108,0.93],[3.7,-0.121,0.93],[3.84,-0.129,0.93],[2.81,-0.114,0.95],[3.02,-0.114,0.92],[2.78,-0.131,0.93],[2.88,-0.129,0.92],[3.09,-0.127,0.93],[3.29,-0.131,0.95],[3.5,-0.138,0.93],[3.7,-0.144,0.93],[3.15,-0.133,0.9],[3.69,-0.137,0.93],[3.8,-0.11,0.88],[3.97,-0.114,0.88],[4.11,-0.106,0.88],[4.31,-0.116,0.85],[3.87,-0.099,0.8],[3.69,-0.073,0.65],
  [1.55,-0.03,0.85],[1.8,-0.025,0.86],[2.0,-0.05,0.9],[2.15,-0.07,0.92],[2.4,-0.08,0.92],[2.6,-0.1,0.93],[2.35,-0.13,0.95],[2.65,-0.118,0.93],[2.95,-0.105,0.92],[3.25,-0.118,0.93],[3.45,-0.125,0.93],[3.0,-0.14,0.93],[3.35,-0.145,0.93],[2.6,-0.062,0.88],[2.8,-0.07,0.86],[3.05,-0.075,0.85],[3.3,-0.085,0.82],[3.55,-0.09,0.82],[3.6,-0.1,0.86],[3.9,-0.12,0.9],[4.2,-0.125,0.88],[4.5,-0.13,0.9],
  [0.29,0.12,0.93],[0.18,0.112,0.93],[0.42,0.114,0.95],[0.56,0.11,0.92],[0.73,0.108,0.9],[0.25,0.105,0.93],[0.46,0.101,0.93],[0.63,0.099,0.95],[0.32,0.093,0.92],[0.52,0.091,0.93],[0.29,0.082,0.85],[0.12,0.076,0.88],[0.42,0.078,0.88],[0.63,0.082,0.88],[0.22,0.071,0.82],[0.49,0.069,0.82],[0.7,0.071,0.8],[0.83,0.059,0.93],[0.29,0.061,0.78],[0.56,0.059,0.75],[0.12,0.052,0.75],[0.35,0.05,0.7],[0.59,0.048,0.78],[0.76,0.043,0.85],[0.94,0.037,0.92],[1.07,0.029,0.95],[0.18,0.041,0.72],[0.42,0.039,0.72],[0.08,0.029,0.68],[0.29,0.027,0.65],[0.53,0.029,0.7],[0.73,0.026,0.72],[0.12,0.018,0.62],[0.35,0.016,0.6],[0.59,0.014,0.62],[0.83,0.011,0.55],[0.97,0.014,0.4],[0.05,0.007,0.58],[0.25,0.005,0.55],[0.49,0.003,0.55],[0.7,0.001,0.55],[0.9,-0.003,0.55],[0.15,-0.005,0.5],[0.39,-0.008,0.52],[0.63,-0.006,0.5],[0.08,-0.016,0.45],[0.29,-0.018,0.45],[0.53,-0.02,0.42],[0.76,-0.018,0.48],[0.94,-0.016,0.5],[0.01,-0.025,0.38],[0.22,-0.029,0.4],[0.46,-0.031,0.38],[0.7,-0.029,0.42],[0.87,-0.033,0.4],[0.12,-0.038,0.35],[0.35,-0.042,0.38],[0.59,-0.04,0.35],[0.83,-0.042,0.4],[0.05,-0.05,0.33],[0.25,-0.052,0.35],[0.49,-0.053,0.33],[0.73,-0.052,0.38],[0.15,-0.063,0.3],[0.39,-0.065,0.33],[0.63,-0.063,0.32],[0.83,-0.065,0.3],[0.12,-0.072,0.35],[0.29,-0.076,0.4],[0.56,-0.074,0.35],[0.12,-0.087,0.35],[0.29,-0.087,0.33],[0.63,-0.084,0.35],[0.32,-0.097,0.32],[0.59,-0.093,0.3],[0.8,-0.097,0.32],[0.49,-0.102,0.3],[0.7,-0.104,0.32],[0.29,-0.117,0.35],[0.25,-0.121,0.33],[0.56,-0.116,0.3],[0.76,-0.114,0.32],[0.66,-0.125,0.3],[0.52,-0.133,0.32],[0.73,-0.129,0.3],[0.25,-0.152,0.3],[0.7,-0.146,0.32],[0.82,-0.151,0.3],
  [0.2,0.098,0.93],[0.4,0.09,0.9],[0.6,0.088,0.9],[0.15,0.065,0.82],[0.4,0.065,0.8],[0.62,0.066,0.82],[0.3,0.055,0.75],[0.5,0.055,0.78],[0.7,0.05,0.8],[0.1,0.045,0.72],[0.3,0.045,0.72],[0.5,0.042,0.7],[0.68,0.038,0.75],[0.85,0.035,0.88],[0.2,0.035,0.7],[0.4,0.032,0.68],[0.62,0.032,0.7],[0.2,0.022,0.65],[0.45,0.022,0.65],[0.7,0.02,0.62],[0.1,0.012,0.6],[0.3,0.01,0.58],[0.55,0.008,0.58],[0.78,0.006,0.55],[0.2,0.0,0.52],[0.45,-0.002,0.52],[0.7,-0.008,0.5],[0.1,-0.01,0.48],[0.35,-0.012,0.48],[0.6,-0.014,0.46],[0.85,-0.01,0.48],[0.15,-0.022,0.42],[0.4,-0.024,0.42],[0.65,-0.022,0.45],[0.9,-0.024,0.45],[0.05,-0.035,0.38],[0.3,-0.036,0.38],[0.55,-0.034,0.36],[0.75,-0.036,0.38],[0.15,-0.045,0.35],[0.4,-0.046,0.36],[0.65,-0.046,0.35],[0.85,-0.05,0.38],[0.1,-0.056,0.33],[0.3,-0.058,0.34],[0.55,-0.058,0.33],[0.75,-0.058,0.35],[0.25,-0.068,0.3],[0.5,-0.07,0.32],[0.7,-0.072,0.3],[0.2,-0.082,0.33],[0.45,-0.08,0.33],[0.75,-0.085,0.32],[0.4,-0.092,0.32],[0.65,-0.095,0.3],[0.35,-0.108,0.33],[0.6,-0.108,0.32],[0.8,-0.12,0.3],[0.4,-0.125,0.33],[0.6,-0.14,0.3],
  [1.17,-0.012,0.6],[1.11,-0.031,0.55],[0.97,-0.046,0.5],[1.24,-0.02,0.65],
];

// (c) [PM1, SHAP interaction (PM1*RH), RH]
const PM_POINTS: number[][] = [
  [118.4,0.1003,0.32],[74.9,0.0938,0.32],[153.8,0.0868,0.3],[90.8,0.0794,0.45],[113.9,0.0668,0.3],[145.1,0.0652,0.32],[71.3,0.061,0.32],[99.4,0.061,0.3],[102.1,0.0627,0.33],[118.8,0.0617,0.3],[128.9,0.0623,0.3],[73.1,0.0566,0.32],[102.1,0.0585,0.33],[104.8,0.0563,0.35],[110.2,0.0572,0.32],[115.7,0.054,0.32],[96.3,0.0534,0.3],[100.3,0.0528,0.3],[84.3,0.0528,0.32],[84.8,0.0514,0.38],[107.9,0.0517,0.35],[158.1,0.0546,0.32],[173.3,0.0556,0.45],[167.7,0.0507,0.42],[174.6,0.0448,0.45],[206.3,0.0521,0.45],[208.7,0.0521,0.45],[208.2,0.0345,0.42],[211.4,0.0293,0.45],[138.9,0.0453,0.33],[157.0,0.046,0.32],[105.2,0.0453,0.32],[117.1,0.0463,0.38],[77.6,0.0453,0.32],
  [57.7,0.0399,0.3],[58.0,0.0392,0.3],[64.9,0.0402,0.32],[66.4,0.0388,0.4],[75.4,0.0418,0.32],[77.9,0.0411,0.32],[81.2,0.0421,0.3],[85.8,0.0433,0.32],[85.8,0.0412,0.3],[87.6,0.0389,0.32],[93.0,0.038,0.33],[98.1,0.0358,0.32],[101.2,0.0388,0.35],[68.5,0.0334,0.35],[74.0,0.0348,0.32],[78.5,0.0351,0.35],[82.1,0.0341,0.32],[89.4,0.0348,0.35],[92.1,0.0327,0.32],[97.5,0.0312,0.35],[102.1,0.0319,0.32],[55.8,0.03,0.3],[63.1,0.0283,0.35],[70.4,0.0298,0.3],[77.6,0.029,0.32],[84.9,0.0298,0.38],[104.8,0.0308,0.42],[113.9,0.0298,0.4],[119.3,0.029,0.45],[122.9,0.0264,0.4],[124.7,0.0261,0.3],[133.8,0.024,0.35],[137.1,0.0228,0.35],[147.1,0.0264,0.4],[154.1,0.0247,0.42],[158.2,0.0264,0.38],[162.4,0.0283,0.35],[166.9,0.0268,0.4],[175.5,0.0261,0.45],[180.0,0.0264,0.3],[180.0,0.0221,0.42],[184.6,0.0203,0.42],[174.6,0.0254,0.5],[198.2,0.0215,0.55],[199.1,0.016,0.55],[187.8,0.0119,0.5],[194.2,0.0116,0.5],[164.6,0.0221,0.5],[169.2,0.0203,0.48],[160.1,0.0174,0.45],[152.9,0.0174,0.4],[154.7,0.0145,0.42],[144.7,0.0174,0.45],[146.5,0.0145,0.5],[139.3,0.0148,0.45],[138.3,0.0179,0.4],[133.3,0.0237,0.42],[129.3,0.0152,0.45],[125.7,0.0116,0.45],[117.5,0.0134,0.5],[119.3,0.0174,0.45],[112.1,0.0174,0.5],[107.5,0.0145,0.5],[101.2,0.016,0.45],[97.5,0.0102,0.5],[104.8,0.0087,0.5],
  [50.4,0.0218,0.3],[54.0,0.0189,0.32],[60.4,0.0232,0.32],[64.9,0.0218,0.35],[71.3,0.0232,0.33],[75.8,0.021,0.38],[81.2,0.0225,0.4],[86.7,0.0203,0.42],[93.0,0.0218,0.42],[97.9,0.0196,0.45],[50.4,0.016,0.33],[56.8,0.0152,0.3],[63.1,0.0167,0.3],[69.4,0.0145,0.35],[75.8,0.016,0.38],[82.1,0.0138,0.42],[88.5,0.0152,0.42],[93.9,0.0131,0.45],[48.6,0.0102,0.45],[54.9,0.0102,0.42],[61.3,0.0087,0.4],[67.6,0.0102,0.42],[74.0,0.008,0.45],[80.3,0.0094,0.45],[86.7,0.0073,0.5],[92.1,0.0087,0.5],[43.2,0.0058,0.5],[50.4,0.0044,0.55],[57.7,0.0036,0.55],[64.9,0.0044,0.52],[72.2,0.0029,0.55],[79.4,0.0036,0.55],[86.7,0.0022,0.55],[93.9,0.0029,0.52],[101.2,0.0029,0.55],[108.4,0.0044,0.55],[115.7,0.0051,0.6],[123.0,0.0036,0.58],[130.2,0.0051,0.6],[128.4,0.0051,0.9],[133.8,0.0022,0.9],[148.3,0.0058,0.92],[145.6,0.0,0.85],[122.9,-0.0015,0.9],
  [55.0,0.025,0.32],[60.0,0.018,0.33],[66.0,0.026,0.33],[72.0,0.018,0.35],[78.0,0.025,0.36],[84.0,0.017,0.4],[90.0,0.024,0.42],[96.0,0.016,0.44],[58.0,0.011,0.4],[64.0,0.013,0.38],[71.0,0.011,0.42],[77.0,0.012,0.44],[84.0,0.01,0.46],[90.0,0.012,0.48],[96.0,0.006,0.5],[53.0,0.008,0.48],
  [46.0,0.0,0.58],[52.0,-0.001,0.6],[58.0,0.0,0.58],[65.0,0.0,0.6],[71.0,-0.001,0.6],[78.0,0.0,0.6],[84.0,-0.001,0.6],[90.0,0.001,0.58],[96.0,-0.001,0.6],[103.0,0.0,0.58],[110.0,0.001,0.58],[117.0,0.0,0.62],[124.0,0.001,0.62],[110.0,0.01,0.52],[117.0,0.009,0.5],[124.0,0.008,0.52],[135.0,0.01,0.5],[141.0,0.008,0.52],[152.0,0.008,0.5],[160.0,0.01,0.5],[168.0,0.01,0.55],[176.0,0.006,0.6],[183.0,0.003,0.6],[140.0,0.0,0.62],[155.0,0.0,0.65],[162.0,0.004,0.82],[170.0,0.0,0.66],
  [46.8,-0.0015,0.65],[54.0,-0.0029,0.65],[61.3,-0.0022,0.62],[68.5,-0.0036,0.65],[75.8,-0.0022,0.62],[83.0,-0.0044,0.68],[90.3,-0.0029,0.65],[97.5,-0.0044,0.65],[104.8,-0.0058,0.62],[112.1,-0.0044,0.6],[119.3,-0.0058,0.65],[126.6,-0.0073,0.7],[133.8,-0.0058,0.65],[141.1,-0.0044,0.62],[148.3,-0.0065,0.6],[155.6,-0.0058,0.62],[162.8,-0.0044,0.6],[170.1,-0.0058,0.62],[177.3,-0.0073,0.65],
  [52.0,-0.006,0.68],[60.0,-0.006,0.68],[67.0,-0.007,0.66],[74.0,-0.006,0.66],[81.0,-0.008,0.7],[88.0,-0.007,0.68],[95.0,-0.008,0.7],[102.0,-0.009,0.68],[109.0,-0.008,0.66],[116.0,-0.009,0.7],[123.0,-0.009,0.7],[130.0,-0.01,0.72],[138.0,-0.009,0.7],[145.0,-0.009,0.72],[152.0,-0.008,0.66],[160.0,-0.009,0.68],[167.0,-0.008,0.66],[175.0,-0.01,0.7],
  [48.6,-0.008,0.7],[55.8,-0.0102,0.72],[63.1,-0.0087,0.7],[70.4,-0.0109,0.68],[77.6,-0.0094,0.72],[84.9,-0.0116,0.7],[92.1,-0.0102,0.7],[99.4,-0.0123,0.72],[106.6,-0.0109,0.68],[113.9,-0.0131,0.72],[121.1,-0.0116,0.75],[128.4,-0.0138,0.72],[135.6,-0.0123,0.75],[142.9,-0.0138,0.8],[150.1,-0.0116,0.72],[157.4,-0.0138,0.75],[164.6,-0.0123,0.7],[171.9,-0.0138,0.68],[179.1,-0.0131,0.72],[184.6,-0.0102,0.75],[188.2,-0.0058,0.85],[193.7,-0.0102,0.72],[199.1,-0.0116,0.68],[204.5,-0.0058,0.85],[209.9,-0.008,0.65],[217.2,-0.0116,0.9],[222.7,0.0007,0.8],[233.0,-0.0017,0.82],[230.0,-0.0051,0.9],[249.0,-0.0058,0.9],[251.7,-0.0046,0.9],[255.3,-0.0096,0.6],[260.4,-0.0219,0.62],[256.7,-0.0264,0.9],[241.3,-0.0225,0.82],[230.8,-0.02,0.78],[225.4,-0.0128,0.88],[218.1,-0.0189,0.6],[215.4,-0.0184,0.65],[223.8,-0.0257,0.92],[227.2,-0.0276,0.85],[206.9,-0.0293,0.88],[204.5,-0.0239,0.8],[211.8,-0.0232,0.62],[203.6,-0.0145,0.92],[209.0,-0.0145,0.9],[195.5,-0.0116,0.6],[192.8,-0.016,0.82],[190.0,-0.0181,0.72],
  [190.0,0.002,0.6],[196.0,-0.003,0.62],[202.0,0.001,0.55],[185.0,-0.02,0.78],[195.0,-0.022,0.75],[200.0,-0.028,0.72],[215.0,-0.028,0.75],[220.0,-0.02,0.82],[232.0,-0.015,0.92],[240.0,-0.012,0.85],[246.0,-0.02,0.88],[236.0,-0.028,0.8],[212.0,-0.005,0.9],[193.0,-0.03,0.85],[187.0,-0.026,0.6],[178.0,-0.018,0.62],[172.0,-0.02,0.68],
  [52.0,-0.013,0.82],[58.0,-0.014,0.8],[65.0,-0.015,0.82],[72.0,-0.014,0.78],[80.0,-0.015,0.8],[87.0,-0.014,0.78],[94.0,-0.016,0.8],[102.0,-0.016,0.8],[110.0,-0.017,0.82],[118.0,-0.017,0.82],[126.0,-0.017,0.85],[134.0,-0.016,0.82],[141.0,-0.017,0.85],[148.0,-0.017,0.8],[156.0,-0.017,0.78],[163.0,-0.016,0.75],
  [46.8,-0.0123,0.92],[50.4,-0.0152,0.93],[55.8,-0.0174,0.9],[61.3,-0.0196,0.93],[66.7,-0.021,0.92],[72.2,-0.0189,0.88],[79.4,-0.0203,0.85],[86.7,-0.0189,0.9],[93.9,-0.021,0.92],[101.2,-0.0196,0.88],[108.4,-0.0218,0.93],[115.7,-0.0203,0.9],[122.9,-0.0225,0.88],[130.2,-0.0203,0.92],[137.4,-0.0218,0.85],[144.7,-0.0203,0.88],[151.9,-0.0225,0.82],[159.2,-0.0218,0.78],[166.5,-0.0203,0.75],[170.1,-0.0261,0.8],[177.3,-0.0254,0.72],[183.0,-0.029,0.68],[173.7,-0.0305,0.85],[185.5,-0.0356,0.7],[166.5,-0.0331,0.93],[146.2,-0.0395,0.82],[125.7,-0.0338,0.62],[123.9,-0.0298,0.8],[137.4,-0.0302,0.85],[130.2,-0.0305,0.82],[63.1,-0.0268,0.92],[67.6,-0.0305,0.93],[74.0,-0.0283,0.92],[82.1,-0.0298,0.93],[91.2,-0.029,0.92],[97.5,-0.0276,0.88],[104.8,-0.0283,0.7],[108.4,-0.0305,0.92],[115.7,-0.0283,0.93],[87.6,-0.0312,0.92],[83.0,-0.0312,0.85],[54.0,-0.0232,0.93],[59.5,-0.0247,0.92],[101.2,-0.0261,0.9],[112.1,-0.0254,0.88],[119.3,-0.0247,0.85],
  [58.0,-0.021,0.92],[64.0,-0.023,0.93],[70.0,-0.024,0.92],[77.0,-0.024,0.9],[85.0,-0.024,0.92],[92.0,-0.025,0.93],[98.0,-0.023,0.9],[106.0,-0.025,0.9],[113.0,-0.023,0.92],[120.0,-0.027,0.92],[127.0,-0.025,0.9],[134.0,-0.026,0.88],[141.0,-0.025,0.85],[148.0,-0.026,0.8],[76.0,-0.032,0.92],[94.0,-0.032,0.9],[112.0,-0.03,0.9],[126.0,-0.032,0.9],[80.0,-0.036,0.86],[100.0,-0.034,0.8],
  [8.7,0.062,0.9],[10.5,0.058,0.88],[6.0,0.055,0.88],[16.0,0.055,0.85],[4.2,0.052,0.9],[8.7,0.0515,0.92],[14.3,0.0508,0.82],[18.7,0.0515,0.8],[3.3,0.0486,0.93],[10.5,0.0479,0.88],[16.0,0.0479,0.75],[23.2,0.045,0.93],[6.0,0.045,0.85],[12.3,0.0435,0.82],[3.3,0.0406,0.88],[8.7,0.0392,0.85],[16.0,0.0399,0.85],[20.5,0.0392,0.88],[6.9,0.0363,0.8],[12.3,0.0348,0.78],[17.8,0.0356,0.75],[25.0,0.0348,0.88],[1.5,0.0308,0.93],[6.0,0.0312,0.72],[11.4,0.0298,0.8],[16.0,0.0312,0.72],[21.4,0.0298,0.82],[25.9,0.0298,0.85],[1.5,0.0247,0.88],[6.9,0.0254,0.75],[12.3,0.024,0.72],[17.8,0.0254,0.75],[23.2,0.0247,0.82],[27.8,0.024,0.85],
  [5.0,0.058,0.9],[12.3,0.055,0.85],[7.0,0.048,0.9],[14.0,0.045,0.8],[18.0,0.046,0.82],[4.5,0.044,0.92],[10.0,0.042,0.85],[5.0,0.036,0.82],[10.0,0.036,0.8],[14.5,0.032,0.76],[19.0,0.032,0.8],[23.0,0.031,0.84],[3.5,0.028,0.8],[9.0,0.027,0.75],[14.5,0.028,0.72],[20.0,0.027,0.78],[24.5,0.027,0.82],[4.0,0.022,0.7],[9.0,0.021,0.68],[13.5,0.021,0.68],[19.0,0.022,0.72],[24.5,0.022,0.8],[29.0,0.022,0.88],[3.5,0.015,0.58],[8.5,0.014,0.62],[13.5,0.015,0.64],[19.0,0.014,0.68],[24.5,0.014,0.8],[29.5,0.016,0.86],[34.0,0.012,0.45],[3.0,0.006,0.55],[8.0,0.006,0.58],[13.5,0.007,0.58],[19.0,0.006,0.6],[24.5,0.005,0.52],[29.5,0.005,0.82],[39.0,0.008,0.42],
  [1.5,0.0206,0.48],[6.0,0.0196,0.62],[10.5,0.0174,0.7],[16.0,0.0189,0.65],[21.4,0.0174,0.78],[26.8,0.0189,0.85],[32.2,0.0203,0.9],[32.2,0.016,0.4],[36.8,0.0138,0.38],[41.3,0.0116,0.45],[1.5,0.0102,0.45],[6.9,0.0087,0.55],[11.4,0.0116,0.6],[16.9,0.0102,0.62],[22.3,0.0087,0.3],[27.8,0.0102,0.85],[32.2,0.0073,0.9],[36.8,0.0051,0.82],[0.5,0.0036,0.62],[5.1,0.0022,0.6],[10.5,0.0036,0.55],[16.0,0.0015,0.58],[21.4,0.0029,0.55],[26.8,0.0007,0.5],[32.2,0.0022,0.85],[37.7,0.0015,0.35],[41.3,0.0007,0.4],
  [0.4,-0.0029,0.8],[5.1,-0.0044,0.45],[10.5,-0.0036,0.5],[16.0,-0.0051,0.45],[21.4,-0.0029,0.52],[26.8,-0.0058,0.48],[32.2,-0.0044,0.42],[36.8,-0.0073,0.4],[43.2,-0.0058,0.88],[45.0,-0.008,0.8],[2.4,-0.0102,0.4],[7.8,-0.0116,0.42],[13.2,-0.0102,0.38],[18.7,-0.0123,0.45],[24.1,-0.0109,0.4],[29.6,-0.0131,0.35],[35.0,-0.0116,0.38],[40.4,-0.0131,0.32],[3.3,-0.016,0.38],[8.7,-0.0174,0.35],[14.1,-0.0167,0.42],[19.6,-0.0181,0.38],[25.0,-0.0174,0.35],[30.5,-0.0189,0.4],[45.5,-0.0189,0.35],
  [3.0,-0.006,0.5],[8.0,-0.007,0.48],[13.0,-0.006,0.45],[18.5,-0.008,0.45],[24.0,-0.006,0.42],[29.5,-0.008,0.42],[34.5,-0.003,0.4],[5.5,-0.013,0.4],[11.0,-0.014,0.4],[16.5,-0.014,0.4],[22.0,-0.015,0.38],[27.5,-0.016,0.36],[33.0,-0.016,0.34],[38.0,-0.017,0.33],[6.0,-0.02,0.38],[11.5,-0.02,0.36],[17.0,-0.02,0.38],[22.5,-0.021,0.36],[28.0,-0.024,0.34],[6.5,-0.026,0.36],[12.0,-0.026,0.34],[18.0,-0.027,0.34],[23.5,-0.027,0.33],[6.0,-0.032,0.36],[11.5,-0.032,0.34],[17.0,-0.033,0.32],[23.0,-0.034,0.33],[5.0,-0.038,0.35],[10.5,-0.039,0.34],[15.5,-0.039,0.33],[4.5,-0.045,0.34],[9.5,-0.046,0.33],[15.0,-0.046,0.31],[20.0,-0.045,0.33],[4.5,-0.056,0.32],[9.0,-0.058,0.31],[13.0,-0.06,0.32],[4.0,-0.066,0.3],[9.5,-0.065,0.31],[2.5,-0.07,0.3],
  [3.3,-0.0218,0.42],[8.7,-0.0232,0.38],[14.1,-0.0225,0.35],[19.6,-0.0239,0.4],[25.0,-0.0232,0.38],[30.5,-0.0218,0.35],[34.1,-0.0254,0.32],[4.2,-0.0283,0.35],[9.6,-0.0298,0.33],[15.0,-0.029,0.32],[20.5,-0.0305,0.35],[26.8,-0.0298,0.33],[30.8,-0.0312,0.3],[45.5,-0.0308,0.33],[3.3,-0.0348,0.38],[8.7,-0.0363,0.35],[14.1,-0.0356,0.33],[20.5,-0.037,0.35],[26.8,-0.0385,0.35],[2.4,-0.0406,0.35],[6.9,-0.0421,0.33],[12.3,-0.0414,0.32],[17.8,-0.0428,0.35],[23.2,-0.0428,0.33],[34.5,-0.0433,0.38],[30.5,-0.0504,0.33],
  [3.3,-0.0479,0.35],[6.9,-0.0493,0.33],[12.3,-0.0501,0.32],[17.8,-0.0493,0.3],[21.4,-0.0501,0.32],[2.4,-0.0522,0.32],[6.0,-0.0537,0.33],[11.4,-0.0544,0.3],[14.1,-0.053,0.3],[2.4,-0.0588,0.3],[6.9,-0.058,0.32],[17.8,-0.061,0.3],[21.4,-0.0624,0.32],[29.6,-0.0665,0.32],[16.0,-0.0668,0.45],[0.5,-0.0639,0.33],[1.5,-0.0682,0.35],[6.9,-0.0711,0.33],[2.4,-0.074,0.32],[3.3,-0.0769,0.3],[11.4,-0.074,0.3],[14.1,-0.0755,0.32],[5.1,-0.0784,0.3],[1.8,-0.0824,0.3],[3.6,-0.0832,0.3],[4.0,-0.1074,0.3],[6.0,-0.061,0.35],
  [30.5,0.013,0.92],[35.0,0.0102,0.88],[39.5,0.0058,0.9],[43.2,-0.0073,0.88],[46.8,-0.0058,0.85],[36.8,0.0087,0.9],[42.3,-0.006,0.92],
];

// layout, in pixels of the 4431 x 1433 reference; x positions are scaled to the real width
const REF_W = 4431;
const FONT = 'Liberation Serif';
const PLOT_TOP = 107;
const PLOT_H = 1147;
const BAR_TOP = 454;
const BAR_H = 541;
const BAR_W = 54;

const PANELS = [
  {
    tag: '(a)', tagX: 10, left: 378, width: 835, bar: 1279,
    xMin: -13.7, xMax: 38.2, xStep: 10, xDigits: 0,
    yMin: -0.438, yMax: 0.387, yStep: 0.2, yDigits: 1,
    xName: 'T', yName: 'SHAP Interaction (T*RH)', yGap: 170, data: T_POINTS,
  },
  {
    tag: '(b)', tagX: 1494, left: 1866, width: 836, bar: 2767,
    xMin: -0.397, xMax: 10.3, xStep: 2.5, xDigits: 1,
    yMin: -0.249, yMax: 0.342, yStep: 0.1, yDigits: 1,
    xName: 'N/S ratio', yName: 'SHAP Interaction (N/S ratio*RH)', yGap: 171, data: NS_POINTS,
  },
  {
    tag: '(c)', tagX: 2983, left: 3391, width: 794, bar: 4250,
    xMin: -11.25, xMax: 273.1, xStep: 100, xDigits: 0,
    yMin: -0.1174, yMax: 0.1102, yStep: 0.05, yDigits: 2,
    xName: '{m|PM}{s|1}', yName: '{m|SHAP Interaction (PM}{s|1}{m|*RH)}', yGap: 208, data: PM_POINTS,
  },
];

const tickFmt = (step: number, digits: number) => (v: number) => {
  const k = Math.round(v / step);
  return Math.abs(v / step - k) < 1e-6 ? (k * step).toFixed(digits) : '';
};

const RICH = {
  m: { fontFamily: FONT, fontSize: 90, color: '#000' },
  s: { fontFamily: FONT, fontSize: 56, color: '#000', verticalAlign: 'bottom' },
};

function buildOption(sx: number) {
  const X = (v: number) => Math.round(v * sx * 10) / 10;
  const grid: any[] = [];
  const xAxis: any[] = [];
  const yAxis: any[] = [];
  const series: any[] = [];
  const graphic: any[] = [];
  const hidden = { axisLine: { show: false }, axisTick: { show: false } };
  const label = { color: '#4D4D4D', fontSize: 82, fontFamily: FONT };
  const nameStyle = { fontFamily: FONT, fontSize: 90, color: '#000', rich: RICH };

  // minor grid lines (half steps)
  PANELS.forEach((p, i) => {
    grid.push({ left: X(p.left), top: PLOT_TOP, width: X(p.width), height: PLOT_H });
    xAxis.push({ type: 'value', gridIndex: i, position: 'bottom', min: p.xMin, max: p.xMax, minInterval: p.xStep / 2, maxInterval: p.xStep / 2, ...hidden, axisLabel: { show: false }, splitLine: { lineStyle: { color: '#EDEDED', width: 1.8 } } });
    yAxis.push({ type: 'value', gridIndex: i, position: 'left', min: p.yMin, max: p.yMax, minInterval: p.yStep / 2, maxInterval: p.yStep / 2, ...hidden, axisLabel: { show: false }, splitLine: { lineStyle: { color: '#EDEDED', width: 1.8 } } });
  });
  // major axes, labels, titles and the points
  PANELS.forEach((p, i) => {
    xAxis.push({
      type: 'value', gridIndex: i, position: 'bottom', min: p.xMin, max: p.xMax, minInterval: p.xStep, maxInterval: p.xStep, ...hidden,
      axisLabel: { ...label, margin: 8, formatter: tickFmt(p.xStep, p.xDigits) },
      splitLine: { lineStyle: { color: '#EBEBEB', width: 3.2 } },
      name: p.xName, nameLocation: 'middle', nameGap: 91, nameTextStyle: nameStyle,
    });
    yAxis.push({
      type: 'value', gridIndex: i, position: 'left', min: p.yMin, max: p.yMax, minInterval: p.yStep, maxInterval: p.yStep, ...hidden,
      axisLabel: { ...label, margin: X(22), formatter: tickFmt(p.yStep, p.yDigits) },
      splitLine: { lineStyle: { color: '#EBEBEB', width: 3.2 } },
      name: p.yName, nameLocation: 'middle', nameGap: X(p.yGap), nameTextStyle: nameStyle,
    });
    series.push({
      type: 'scatter', xAxisIndex: 3 + i, yAxisIndex: 3 + i, data: p.data,
      symbol: 'circle', symbolSize: 17, itemStyle: { opacity: 0.6 }, silent: true,
    });
  });
  // colour bar labels
  PANELS.forEach((p, i) => {
    grid.push({ left: X(p.bar), top: BAR_TOP, width: X(BAR_W), height: BAR_H });
    xAxis.push({ type: 'value', gridIndex: 3 + i, show: false, min: 0, max: 1 });
    yAxis.push({
      type: 'value', gridIndex: 3 + i, position: 'right', min: RH_MIN, max: RH_MAX, minInterval: 0.1, maxInterval: 0.1,
      axisLine: { show: false }, axisTick: { show: false }, splitLine: { show: false },
      axisLabel: { color: '#000', fontSize: 74, fontFamily: FONT, margin: X(20), formatter: tickFmt(0.1, 1) },
    });
  });

  const gradient = new echarts.graphic.LinearGradient(0, 1, 0, 0,
    VIRIDIS.map((c, k) => ({ offset: k / (VIRIDIS.length - 1), color: c })));

  PANELS.forEach((p) => {
    graphic.push({
      type: 'rect', z: 100, silent: true,
      shape: { x: X(p.left), y: PLOT_TOP, width: X(p.width), height: PLOT_H },
      style: { fill: 'none', stroke: '#000', lineWidth: 4.5 },
    });
    graphic.push({
      type: 'rect', z: 50, silent: true,
      shape: { x: X(p.bar), y: BAR_TOP, width: X(BAR_W), height: BAR_H },
      style: { fill: gradient },
    });
    RH_TICKS.forEach((v) => {
      const y = BAR_TOP + ((RH_MAX - v) / (RH_MAX - RH_MIN)) * BAR_H;
      graphic.push({ type: 'line', z: 51, silent: true, shape: { x1: X(p.bar), y1: y, x2: X(p.bar + 11), y2: y }, style: { stroke: '#fff', lineWidth: 1.5 } });
      graphic.push({ type: 'line', z: 51, silent: true, shape: { x1: X(p.bar + BAR_W - 11), y1: y, x2: X(p.bar + BAR_W), y2: y }, style: { stroke: '#fff', lineWidth: 1.5 } });
    });
    graphic.push({
      type: 'text', z: 50, silent: true, x: X(p.bar + 84), y: 400,
      style: { text: 'RH', fill: '#000', font: `74px "${FONT}"`, textAlign: 'center', align: 'center', textVerticalAlign: 'middle', verticalAlign: 'middle' },
    });
    graphic.push({
      type: 'text', z: 50, silent: true, x: X(p.tagX), y: 52,
      style: { text: p.tag, fill: '#000', font: `90px "${FONT}"`, textAlign: 'left', align: 'left', textVerticalAlign: 'middle', verticalAlign: 'middle' },
    });
  });
  // the (b) y title runs past the top of its panel and is cut there
  graphic.push({
    type: 'rect', z: 100, silent: true,
    shape: { x: X(1605), y: 0, width: X(115), height: 84 },
    style: { fill: '#fff' },
  });

  return {
    animation: false,
    backgroundColor: '#fff',
    textStyle: { fontFamily: FONT },
    grid,
    xAxis,
    yAxis,
    visualMap: {
      type: 'continuous', show: false, dimension: 2, min: RH_MIN, max: RH_MAX,
      seriesIndex: [0, 1, 2], inRange: { color: VIRIDIS },
    },
    series,
    graphic,
  };
}

export default function App() {
  const ref = useRef<HTMLDivElement>(null);

  useEffect(() => {
    if (!ref.current) return;
    const chart = echarts.init(ref.current, undefined, { renderer: 'svg' });
    // the browser may give less than the full reference width; fit the layout to it
    const sx = Math.min(1, chart.getWidth() / REF_W);
    chart.setOption(buildOption(sx) as any);
    return () => chart.dispose();
  }, []);

  return (
    <div
      ref={ref}
      style={{ position: 'absolute', left: 0, top: 0, width: '100vw', maxWidth: REF_W, height: 1433, background: '#fff' }}
    />
  );
}
